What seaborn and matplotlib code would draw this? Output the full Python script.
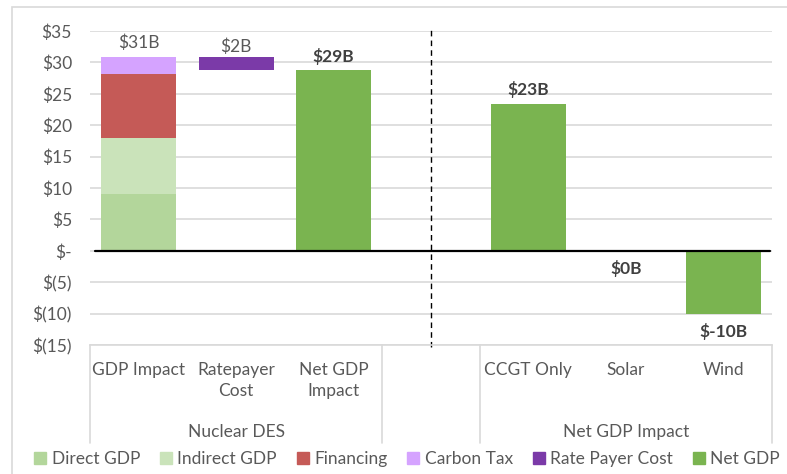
import matplotlib.pyplot as plt
import seaborn as sns
from matplotlib.patches import Patch, Rectangle
from matplotlib.transforms import blended_transform_factory

# categories on the x axis (blank slot separates the two groups)
categories = ["GDP Impact", "Ratepayer\nCost", "Net GDP\nImpact", "", "CCGT Only", "Solar", "Wind"]
groups = ["Nuclear DES", "Net GDP Impact"]
group_members = [["GDP Impact", "Ratepayer\nCost", "Net GDP\nImpact"], ["CCGT Only", "Solar", "Wind"]]

# stacked GDP impact components ($B)
stack_names = ["Direct GDP", "Indirect GDP", "Financing", "Carbon Tax"]
stack_values = [9.0, 9.0, 10.1, 2.7]
stack_colors = ["#B3D69B", "#CAE3BA", "#C55A57", "#D5A3FF"]

# floating ratepayer cost bar
rate_payer_cost = 2.0
rate_payer_color = "#7B3AA8"

# net GDP bars
net_cats = ["Net GDP\nImpact", "CCGT Only", "Solar", "Wind"]
net_gdp = [28.8, 23.4, 0.0, -10.0]
net_color = "#7AB450"

ytick_vals = [-15, -10, -5, 0, 5, 10, 15, 20, 25, 30, 35]
ytick_labels = ["$(15)", "$(10)", "$(5)", "$-", "$5", "$10", "$15", "$20", "$25", "$30", "$35"]

sns.set_style("white")
plt.rcParams["font.family"] = ["Lato", "DejaVu Sans"]
text_color = "#595959"
grid_color = "#D9D9D9"
fs = 12.5

fig = plt.figure(figsize=(7.87, 4.74), dpi=100)
ax = fig.add_axes([90 / 787, 1 - 345 / 474, (772 - 90) / 787, (345 - 31) / 474])

bw = 0.77
bottom = 0.0
for name, val, col in zip(stack_names, stack_values, stack_colors):
    sns.barplot(x=[categories[0]], y=[val], order=categories, color=col, width=bw, saturation=1,
                bottom=bottom, linewidth=0, errorbar=None, ax=ax)
    bottom += val
stack_total = bottom

rp_bottom = stack_total - rate_payer_cost
sns.barplot(x=[categories[1]], y=[rate_payer_cost], order=categories, color=rate_payer_color,
            width=bw, saturation=1, bottom=rp_bottom, linewidth=0, errorbar=None, ax=ax)

sns.barplot(x=net_cats, y=net_gdp, order=categories, color=net_color, width=bw, saturation=1,
            linewidth=0, errorbar=None, ax=ax)

ax.set_ylim(-15, 35)
ax.set_xlim(-0.5, len(categories) - 0.5)
ax.set_yticks(ytick_vals)
ax.set_yticklabels(ytick_labels)
ax.tick_params(axis="y", length=0, pad=13, labelsize=fs, labelcolor=text_color)
ax.set_xticks([])
ax.set_xlabel("")
ax.set_ylabel("")
ax.yaxis.grid(True, color=grid_color, linewidth=1.2)
ax.set_axisbelow(True)
for side in ["left", "right", "top"]:
    ax.spines[side].set_visible(False)
ax.spines["bottom"].set_color(grid_color)
ax.spines["bottom"].set_linewidth(1.2)

# zero line
ax.axhline(0, xmin=0.007, xmax=0.997, color="black", linewidth=1.6, zorder=3)

# dashed divider through blank slot
bt = blended_transform_factory(ax.transData, ax.transAxes)
blank_pos = categories.index("")
ax.plot([blank_pos, blank_pos], [-0.006, 1.006], transform=bt, color="black",
        linestyle=(0, (4, 3)), linewidth=1, clip_on=False)

# data labels
ax.annotate(f"${stack_total:.0f}B", (0, stack_total), xytext=(0, 10.5), textcoords="offset points",
            ha="center", va="center", fontsize=fs, color=text_color)
ax.annotate(f"${rate_payer_cost:.0f}B", (1, stack_total), xytext=(0, 8), textcoords="offset points",
            ha="center", va="center", fontsize=fs, color=text_color)
for cat, v in zip(net_cats, net_gdp):
    xi = categories.index(cat)
    off = 10 if v > 0 else -13
    ax.annotate(f"${v:.0f}B", (xi, v), xytext=(0, off), textcoords="offset points",
                ha="center", va="center", fontsize=fs, fontweight="bold", color="#404040")

# multi-level category axis
ft = blended_transform_factory(ax.transData, fig.transFigure)
for i, cat in enumerate(categories):
    ax.text(i, 1 - 362 / 474, cat, transform=ft, ha="center", va="top", fontsize=fs,
            color=text_color, linespacing=1.4)
for g, members in zip(groups, group_members):
    idx = [categories.index(m) for m in members]
    ax.text((min(idx) + max(idx)) / 2, 1 - 432 / 474, g, transform=ft, ha="center", va="center",
            fontsize=fs, color=text_color)
for xb in [-0.5, 2.5, 3.5, len(categories) - 0.5]:
    ax.plot([xb, xb], [1 - 345 / 474, 1 - 443 / 474], transform=ft, color=grid_color,
            linewidth=1.2, clip_on=False)

# legend
handles = [Patch(color=c) for c in stack_colors + [rate_payer_color, net_color]]
labels = stack_names + ["Rate Payer Cost", "Net GDP"]
fig.legend(handles, labels, loc="center", bbox_to_anchor=(407 / 787, 1 - 459 / 474), ncol=6,
           frameon=False, fontsize=fs, handlelength=0.7, handleheight=0.7, handletextpad=0.3,
           columnspacing=1.15, labelcolor=text_color, borderpad=0, borderaxespad=0)

# chart border
fig.add_artist(Rectangle((12 / 787, -0.1), 1.2, 1.1 - 7 / 474, transform=fig.transFigure,
                         fill=False, edgecolor=grid_color, linewidth=1.2))

fig.savefig("out.png", dpi=100)
